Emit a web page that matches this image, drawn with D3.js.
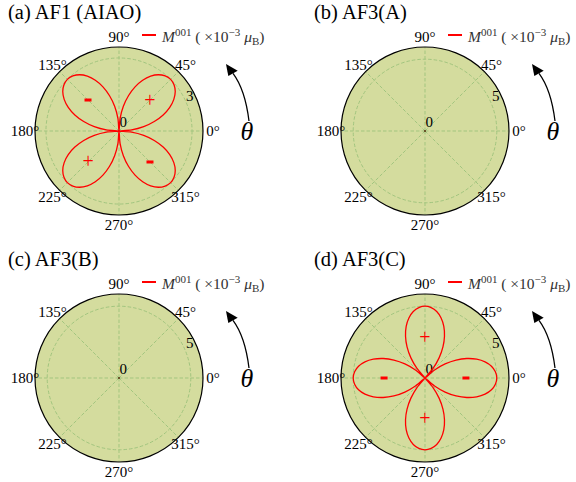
<!DOCTYPE html>
<html><head><meta charset="utf-8">
<script src="https://cdn.jsdelivr.net/npm/d3@7"></script>
<style>body{margin:0;background:#fff} svg{display:block} text{font-family:"Liberation Serif","Times New Roman","DejaVu Serif",serif;}</style>
</head><body>
<svg id="c" width="576" height="482"></svg>
<script>
// ---- data ----
const panelTitles = ["(a) AF1 (AIAO)", "(b) AF3(A)", "(c) AF3(B)", "(d) AF3(C)"];
const angleTicks = [0, 45, 90, 135, 180, 225, 270, 315];
const thetaDeg = [0,5,10,15,20,25,30,35,40,45,50,55,60,65,70,75,80,85,
  90,95,100,105,110,115,120,125,130,135,140,145,150,155,160,165,170,175,
  180,185,190,195,200,205,210,215,220,225,230,235,240,245,250,255,260,265,
  270,275,280,285,290,295,300,305,310,315,320,325,330,335,340,345,350,355];
const mA = [0,0.52,1.03,1.50,1.93,2.30,2.60,2.82,2.95,3.00,2.95,2.82,2.60,2.30,1.93,1.50,1.03,0.52,
  0,-0.52,-1.03,-1.50,-1.93,-2.30,-2.60,-2.82,-2.95,-3.00,-2.95,-2.82,-2.60,-2.30,-1.93,-1.50,-1.03,-0.52,
  0,0.52,1.03,1.50,1.93,2.30,2.60,2.82,2.95,3.00,2.95,2.82,2.60,2.30,1.93,1.50,1.03,0.52,
  0,-0.52,-1.03,-1.50,-1.93,-2.30,-2.60,-2.82,-2.95,-3.00,-2.95,-2.82,-2.60,-2.30,-1.93,-1.50,-1.03,-0.52];
const mB = [0,0,0,0,0,0,0,0,0,0,0,0,0,0,0,0,0,0,0,0,0,0,0,0,0,0,0,0,0,0,0,0,0,0,0,0,
  0,0,0,0,0,0,0,0,0,0,0,0,0,0,0,0,0,0,0,0,0,0,0,0,0,0,0,0,0,0,0,0,0,0,0,0];
const mC = [0,0,0,0,0,0,0,0,0,0,0,0,0,0,0,0,0,0,0,0,0,0,0,0,0,0,0,0,0,0,0,0,0,0,0,0,
  0,0,0,0,0,0,0,0,0,0,0,0,0,0,0,0,0,0,0,0,0,0,0,0,0,0,0,0,0,0,0,0,0,0,0,0];
const mD = [-5.00,-4.92,-4.70,-4.33,-3.83,-3.21,-2.50,-1.71,-0.87,0,0.87,1.71,2.50,3.21,3.83,4.33,4.70,4.92,
  5.00,4.92,4.70,4.33,3.83,3.21,2.50,1.71,0.87,0,-0.87,-1.71,-2.50,-3.21,-3.83,-4.33,-4.70,-4.92,
  -5.00,-4.92,-4.70,-4.33,-3.83,-3.21,-2.50,-1.71,-0.87,0,0.87,1.71,2.50,3.21,3.83,4.33,4.70,4.92,
  5.00,4.92,4.70,4.33,3.83,3.21,2.50,1.71,0.87,0,-0.87,-1.71,-2.50,-3.21,-3.83,-4.33,-4.70,-4.92];
const rMax = [3.45, 5.85, 5.85, 5.85];
const rTick = [3, 5, 5, 5];
// sign annotations
const signsA = {angle: [45, 135, 225, 315], r: [1.8, 1.8, 1.8, 1.8], label: ["+", "-", "+", "-"]};
const signsD = {angle: [0, 90, 180, 270], r: [2.85, 2.85, 2.85, 2.85], label: ["-", "+", "-", "+"]};
const signsNone = {angle: [], r: [], label: []};

// ---- layout ----
const W = 576, H = 482, R = 84;
const centers = [[119, 131], [425, 131], [119, 378], [425, 378]];
const series = [mA, mB, mC, mD];
const signs = [signsA, signsNone, signsNone, signsD];
const bg = "#d4dc9e", gridCol = "#a2c57f";

const svg = d3.select("#c");
const rad = d => d * Math.PI / 180;

panelTitles.forEach((title, i) => {
  const [cx, cy] = centers[i];
  const g = svg.append("g").attr("transform", `translate(${cx},${cy})`);
  const r = d3.scaleLinear().domain([0, rMax[i]]).range([0, R]);

  // title
  g.append("text").attr("x", -111).attr("y", -112.5)
    .attr("font-size", 20.5).attr("fill", "#000").text(title);

  // background disc
  g.append("circle").attr("r", R).attr("fill", bg);

  // grid
  angleTicks.forEach(a => {
    g.append("line").attr("x1", 0).attr("y1", 0)
      .attr("x2", R * Math.cos(rad(a))).attr("y2", -R * Math.sin(rad(a)))
      .attr("stroke", gridCol).attr("stroke-width", 1).attr("stroke-dasharray", "3.5,2");
  });
  g.append("circle").attr("r", r(rTick[i])).attr("fill", "none")
    .attr("stroke", gridCol).attr("stroke-width", 1).attr("stroke-dasharray", "3.5,2");

  // outline
  g.append("circle").attr("r", R).attr("fill", "none").attr("stroke", "#000").attr("stroke-width", 1.2);

  // radial tick labels
  g.append("text").attr("x", 0.5).attr("y", -4).attr("font-size", 15).text("0");
  g.append("text").attr("x", 79 * Math.cos(rad(26.5))).attr("y", -79 * Math.sin(rad(26.5)) + 5)
    .attr("text-anchor", "middle").attr("font-size", 15).text(rTick[i]);

  // angle labels
  angleTicks.forEach(a => {
    g.append("text").attr("x", 94 * Math.cos(rad(a))).attr("y", -94 * Math.sin(rad(a)) + 5)
      .attr("text-anchor", "middle").attr("font-size", 15).text(a + "°");
  });

  // origin dot
  g.append("circle").attr("r", 1.1).attr("fill", "#5a3a14");

  // curve
  const pts = thetaDeg.map((t, k) => [t, series[i][k]]);
  const line = d3.lineRadial()
    .angle(d => Math.PI / 2 - rad(d[0]))
    .radius(d => r(Math.abs(d[1])))
    .curve(d3.curveCatmullRomClosed.alpha(0.5));
  if (series[i].some(v => v !== 0)) {
    g.append("path").attr("d", line(pts)).attr("fill", "none")
      .attr("stroke", "#ff0000").attr("stroke-width", 1.3);
  }

  // signs
  const s = signs[i];
  s.angle.forEach((a, k) => {
    const x = r(s.r[k]) * Math.cos(rad(a)), y = -r(s.r[k]) * Math.sin(rad(a));
    if (s.label[k] === "+") {
      g.append("text").attr("x", x).attr("y", y + 6.5).attr("text-anchor", "middle")
        .attr("font-size", 20).attr("fill", "#ff0000").text("+");
    } else {
      g.append("rect").attr("x", x - 3.5).attr("y", y - 1.5).attr("width", 7).attr("height", 3)
        .attr("fill", "#ff0000");
    }
  });

  // legend
  g.append("line").attr("x1", 23).attr("x2", 37).attr("y1", -96).attr("y2", -96)
    .attr("stroke", "#ff0000").attr("stroke-width", 2);
  const lt = g.append("text").attr("x", 43).attr("y", -89)
    .attr("font-size", 15.5).attr("fill", "#333");
  lt.append("tspan").attr("font-style", "italic").text("M");
  lt.append("tspan").attr("font-size", 11).attr("dy", -6).text("001");
  lt.append("tspan").attr("dy", 6).text(" ( ×10");
  lt.append("tspan").attr("font-size", 11).attr("dy", -6).text("−3");
  lt.append("tspan").attr("dy", 6).attr("font-style", "italic").text(" μ");
  lt.append("tspan").attr("font-size", 11).attr("dy", 3).text("B");
  lt.append("tspan").attr("dy", -3).text(")");

  // theta arrow
  g.append("path").attr("d", "M130,-10 Q126.2,-41.4 114,-57.7")
    .attr("fill", "none").attr("stroke", "#000").attr("stroke-width", 1.3);
  g.append("path").attr("d", "M107,-67 L109.3,-55 L118.7,-60.3 Z").attr("fill", "#000");
  g.append("text").attr("x", 128).attr("y", 9).attr("text-anchor", "middle")
    .attr("font-style", "italic").attr("font-size", 26).text("θ");
});
</script></body></html>
